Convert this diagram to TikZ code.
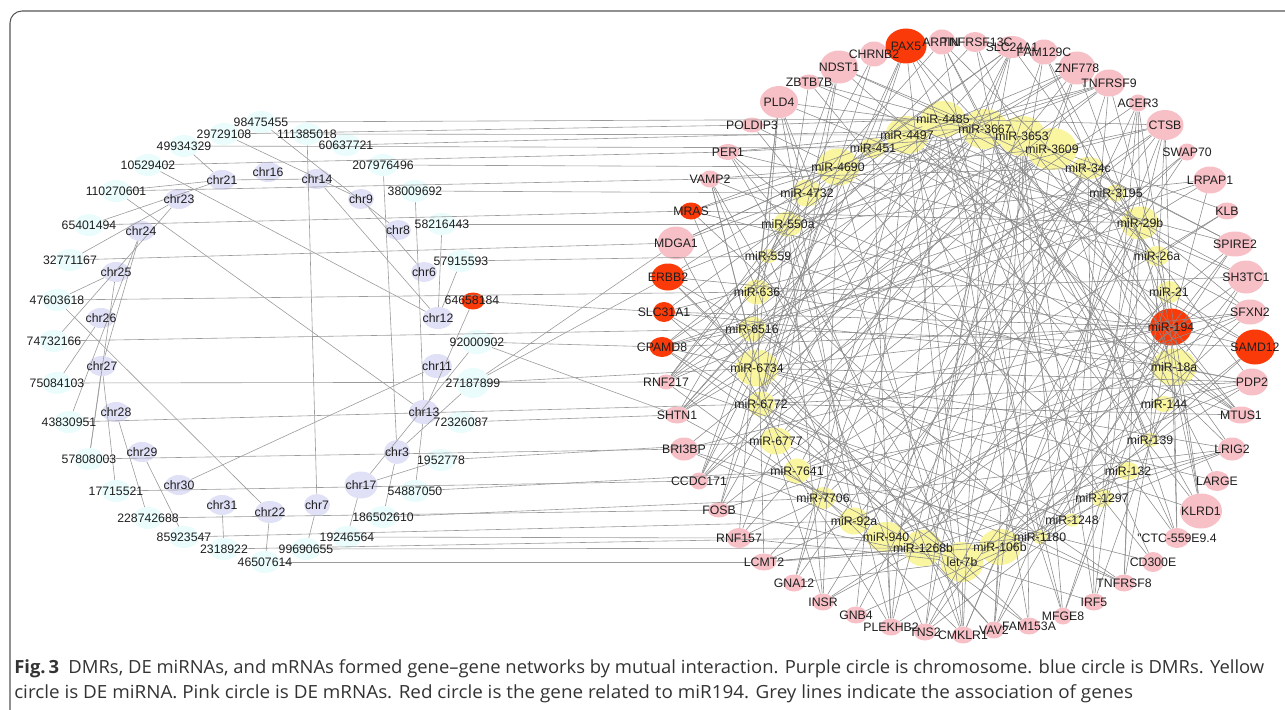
\documentclass[tikz,border=0pt]{standalone}
\usepackage{fontspec}
\usepackage{graphicx}
\newfontfamily\lblfont{Liberation Sans}
\newfontfamily\capfont{Open Sans}
\usetikzlibrary{shapes.geometric}
\definecolor{pk}{RGB}{247,192,198}
\definecolor{rd}{RGB}{250,58,8}
\definecolor{yl}{RGB}{250,246,160}
\definecolor{cy}{RGB}{234,252,252}
\definecolor{lv}{RGB}{224,224,247}
\definecolor{eg}{RGB}{138,138,138}
\definecolor{lg}{RGB}{155,155,155}
\definecolor{framecol}{RGB}{85,85,85}
\pgfdeclarelayer{fills}\pgfdeclarelayer{edges}
\pgfsetlayers{fills,edges,main}
\tikzset{
  blob/.style={ellipse, inner sep=0pt, draw=none},
  lbl/.style={font=\lblfont\fontsize{9.2}{10}\selectfont, text=black!88, inner sep=0pt},
  edge/.style={draw=eg, line width=0.42pt},
  ledge/.style={draw=lg, line width=0.45pt},
  capline/.style={anchor=base west, inner sep=0pt, text=black!80}
}
\begin{document}
\begin{tikzpicture}[x=0.75pt,y=-0.75pt]
\path[use as bounding box] (0,0) rectangle (1285,710);
\clip (0,0) rectangle (1285,710);
\draw[framecol, line width=0.8pt, rounded corners=9pt] (10,11) rectangle (1320,760);

% ---------- left: DMRs (cyan) ----------
\foreach \n/\x/\y/\w/\h/\t in {
 d98475455/261/122/30/22/98475455, d29729108/224/134/30/22/29729108,
 d111385018/307/134/30/22/111385018, d49934329/184/146/30/22/49934329,
 d60637721/346/145/30/22/60637721, d10529402/148/165/30/22/10529402,
 d207976496/383/165/30/22/207976496, d110270601/116/191/30/22/110270601,
 d38009692/415/191/30/22/38009692, d65401494/89/225/30/22/65401494,
 d58216443/442/224/30/22/58216443, d32771167/70/260/30/22/32771167,
 d57915593/461/261/30/22/57915593, d47603618/57/300/30/22/47603618,
 d74732166/54/341/30/22/74732166, d92000902/477/342/33/24/92000902,
 d75084103/57/383/30/22/75084103, d27187899/473/383/33/30/27187899,
 d43830951/69/422/30/22/43830951, d72326087/461/422/30/22/72326087,
 d57808003/89/459/30/22/57808003, d1952778/441/460/30/22/1952778,
 d17715521/116/491/30/22/17715521, d54887050/415/491/30/22/54887050,
 d228742688/148/518/30/22/228742688, d186502610/383/517/30/22/186502610,
 d85923547/184/537/30/22/85923547, d19246564/347/537/30/22/19246564,
 d2318922/224/549/30/22/2318922, d99690655/306/549/30/22/99690655,
 d46507614/265/562/30/22/46507614}{
  \begin{pgfonlayer}{fills}
   \node[blob, fill=cy, minimum width=\w*0.75pt, minimum height=\h*0.75pt] (\n) at (\x,\y) {};
  \end{pgfonlayer}
  \node[lbl] at (\n) {\t};
}
\begin{pgfonlayer}{fills}
 \node[blob, fill=rd, minimum width=23*0.75pt, minimum height=17*0.75pt] (d64658184) at (473,301) {};
\end{pgfonlayer}
\node[lbl] at (472,300) {64658184};

% ---------- left: chromosomes (lavender) ----------
\foreach \n/\x/\y/\w/\h in {
 chr21/222/180/28/20, chr16/268/172/28/20, chr14/317/179/28/20, chr23/179/199/28/20,
 chr9/361/199/26/20, chr24/141/231/28/20, chr8/398/230/26/20, chr25/116/272/28/20,
 chr6/424/272/26/20, chr26/101/318/28/20, chr12/438/318/30/22, chr27/102/366/28/20,
 chr11/437/366/30/24, chr28/116/412/28/20, chr13/424/412/30/24, chr29/142/452/28/20,
 chr3/397/452/26/24, chr30/179/485/28/20, chr17/361/485/33/27, chr31/222/505/28/20,
 chr22/270/512/30/22, chr7/317/505/26/22}{
  \begin{pgfonlayer}{fills}
   \node[blob, fill=lv, minimum width=\w*0.75pt, minimum height=\h*0.75pt] (\n) at (\x,\y) {};
  \end{pgfonlayer}
  \node[lbl] at (\n) {\n};
}

% ---------- right: mRNAs (pink) ----------
\foreach \n/\x/\y/\w/\h/\t in {
 ARPIN/942/42/27/25/ARPIN, TNFRSF13C/975/42/25/20/TNFRSF13C, SLC24A1/1012/47/32/22/SLC24A1,
 FAM129C/1044/52/28/25/FAM129C, ZNF778/1077/68/37/33/ZNF778, TNFRSF9/1109/83/32/27/TNFRSF9,
 ACER3/1138/103/18/17/ACER3, CTSB/1165/125/37/30/CTSB, SWAP70/1187/152/18/17/SWAP70,
 LRPAP1/1210/180/33/27/LRPAP1, KLB/1227/211/23/17/KLB, SPIRE2/1235/244/37/25/SPIRE2,
 SH3TC1/1246/277/37/33/SH3TC1, SFXN2/1250/312/33/25/SFXN2, PDP2/1252/382/32/27/PDP2,
 MTUS1/1241/415/28/17/MTUS1, LRIG2/1232/449/28/23/LRIG2, LARGE/1217/481/25/20/LARGE,
 KLRD1/1201/511/42/35/KLRD1, CTC/1177/538/25/20/"CTC-559E9.4, CD300E/1153/562/22/20/CD300E,
 TNFRSF8/1124/583/22/17/TNFRSF8, IRF5/1094/602/22/17/IRF5, MFGE8/1063/616/18/17/MFGE8,
 FAM153A/1029/626/22/17/FAM153A, VAV2/994/630/20/17/VAV2, CMKLR1/963/635/22/17/CMKLR1,
 TNS2/925/632/22/17/TNS2, PLEKHB2/891/627/22/17/PLEKHB2, GNB4/856/615/22/17/GNB4,
 INSR/823/602/22/17/INSR, GNA12/794/583/22/17/GNA12, LCMT2/764/562/25/17/LCMT2,
 RNF157/739/538/25/20/RNF157, FOSB/719/510/22/15/FOSB, CCDC171/699/481/18/17/CCDC171,
 BRI3BP/684/449/28/23/BRI3BP, SHTN1/677/415/25/17/SHTN1, RNF217/666/382/18/15/RNF217,
 MDGA1/676/243/37/33/MDGA1, VAMP2/710/179/20/17/VAMP2, PER1/728/152/23/16/PER1,
 POLDIP3/752/125/22/15/POLDIP3, PLD4/779/102/38/32/PLD4, ZBTB7B/809/82/22/15/ZBTB7B,
 NDST1/839/67/38/33/NDST1, CHRNB2/874/54/28/25/CHRNB2}{
  \begin{pgfonlayer}{fills}
   \node[blob, fill=pk, minimum width=\w*0.75pt, minimum height=\h*0.75pt] (\n) at (\x,\y) {};
  \end{pgfonlayer}
}
% ---------- right: genes related to miR-194 (red) ----------
\foreach \n/\x/\y/\w/\h in {
 PAX5/906/46/41/35, SAMD12/1255/347/40/35, CPAMD8/662/347/25/20, SLC31A1/664/312/22/20,
 ERBB2/668/277/33/27, MRAS/691/211/22/17}{
  \begin{pgfonlayer}{fills}
   \node[blob, fill=rd, minimum width=\w*0.75pt, minimum height=\h*0.75pt] (\n) at (\x,\y) {};
  \end{pgfonlayer}
}
% ---------- right: miRNAs (yellow) ----------
\foreach \n/\x/\y/\w/\h in {
 m4485/943/119/45/36, m3667/985/129/47/40, m3653/1022/136/47/40, m3609/1052/149/50/42,
 m4497/907/135/43/38, m451/873/148/27/20, m4690/838/167/43/37, m34c/1088/168/33/22,
 m4732/807/193/30/27, m3195/1116/193/20/17, m550a/788/224/30/25, m29b/1140/223/38/33,
 m559/768/256/18/14, m26a/1157/256/25/20, m636/757/292/28/25, m21/1169/292/25/22,
 m6516/752/329/28/25, m6734/757/368/43/37, m18a/1174/367/45/37, m6772/761/404/28/25,
 m144/1164/404/23/16, m6777/776/441/32/27, m139/1150/440/17/14, m7641/797/471/27/25,
 m132/1128/471/23/18, m7706/823/498/25/22, m1297/1102/498/22/18, m92a/854/521/30/27,
 m1248/1072/520/17/13, m940/886/537/40/30, m1180/1040/537/15/14, m1268b/923/548/38/37,
 let7b/962/562/43/40, m106b/1000/547/42/36}{
  \begin{pgfonlayer}{fills}
   \node[blob, fill=yl, minimum width=\w*0.75pt, minimum height=\h*0.75pt] (\n) at (\x,\y) {};
  \end{pgfonlayer}
}
\begin{pgfonlayer}{fills}
 \node[blob, fill=rd, minimum width=42*0.75pt, minimum height=37*0.75pt] (m194) at (1171,327) {};
\end{pgfonlayer}

% ---------- labels of the right network ----------
\foreach \n/\t in {
 PAX5/PAX5, SAMD12/SAMD12, CPAMD8/CPAMD8, SLC31A1/SLC31A1, ERBB2/ERBB2, MRAS/MRAS,
 SLC24A1/SLC24A1, FAM129C/FAM129C, ZNF778/ZNF778, TNFRSF9/TNFRSF9,
 ACER3/ACER3, CTSB/CTSB, SWAP70/SWAP70, LRPAP1/LRPAP1, KLB/KLB, SPIRE2/SPIRE2,
 SH3TC1/SH3TC1, SFXN2/SFXN2, PDP2/PDP2, MTUS1/MTUS1, LRIG2/LRIG2, LARGE/LARGE,
 KLRD1/KLRD1, CTC/"CTC-559E9.4, CD300E/CD300E, TNFRSF8/TNFRSF8, IRF5/IRF5, MFGE8/MFGE8,
 FAM153A/FAM153A, VAV2/VAV2, CMKLR1/CMKLR1, TNS2/TNS2, PLEKHB2/PLEKHB2, GNB4/GNB4,
 INSR/INSR, GNA12/GNA12, LCMT2/LCMT2, RNF157/RNF157, FOSB/FOSB, CCDC171/CCDC171,
 BRI3BP/BRI3BP, SHTN1/SHTN1, RNF217/RNF217, MDGA1/MDGA1, VAMP2/VAMP2, PER1/PER1,
 POLDIP3/POLDIP3, PLD4/PLD4, ZBTB7B/ZBTB7B, NDST1/NDST1, CHRNB2/CHRNB2,
 m4485/miR-4485, m3667/miR-3667, m3653/miR-3653, m3609/miR-3609, m4497/miR-4497,
 m451/miR-451, m4690/miR-4690, m34c/miR-34c, m4732/miR-4732, m3195/miR-3195,
 m550a/miR-550a, m29b/miR-29b, m559/miR-559, m26a/miR-26a, m636/miR-636, m21/miR-21,
 m6516/miR-6516, m194/miR-194, m6734/miR-6734, m18a/miR-18a, m6772/miR-6772,
 m144/miR-144, m6777/miR-6777, m139/miR-139, m7641/miR-7641, m132/miR-132,
 m7706/miR-7706, m1297/miR-1297, m92a/miR-92a, m1248/miR-1248, m940/miR-940,
 m1180/miR-1180, m1268b/miR-1268b, let7b/let-7b, m106b/miR-106b}{
  \node[lbl] at (\n) {\t};
}
\node[lbl] at (941,42) {ARPIN};
\node[lbl] at (977,42) {TNFRSF13C};

% ---------- edges ----------
\begin{pgfonlayer}{edges}
% chromosome -- DMR
\foreach \a/\b in {d49934329/chr21, d110270601/chr21, chr21/chr14, d65401494/chr21,
 d32771167/chr23, chr23/d74732166, chr24/chr27, chr24/d43830951, chr25/d47603618,
 chr25/d57808003, chr26/d75084103, chr27/d57808003, chr27/d17715521, chr28/d228742688,
 chr29/d85923547, chr31/d2318922, chr22/d46507614, chr7/d99690655, d111385018/chr7,
 d47603618/chr22, d10529402/chr12, d110270601/chr13, d29729108/chr9, d98475455/chr8,
 chr9/chr6, d207976496/chr3, d38009692/chr13, d58216443/chr12, d57915593/chr12,
 d64658184/chr13, chr14/chr12, chr17/d92000902, chr3/d27187899, chr17/d1952778,
 chr17/d19246564, chr3/d186502610, chr13/d54887050, chr30/chr11}{
  \draw[ledge] (\a) -- (\b);
}
% DMR -- genes / miRNAs
\foreach \a/\b in {d98475455/m4485, d29729108/POLDIP3, d111385018/m4497, d49934329/m451,
 d60637721/m3667, d10529402/PER1, d207976496/m4690, d110270601/VAMP2, d38009692/m4732,
 d65401494/MRAS, d58216443/m550a, d32771167/MDGA1, d57915593/m559, d47603618/m636,
 d64658184/SLC31A1, d74732166/m6516, d92000902/CPAMD8, d75084103/RNF217, d27187899/m6734,
 d27187899/ERBB2, d27187899/MDGA1, d43830951/m6772, d72326087/SHTN1, d92000902/SHTN1,
 d57808003/BRI3BP, d1952778/m6777, d17715521/CCDC171, d54887050/m7641, d228742688/FOSB,
 d186502610/m7706, d85923547/m92a, d19246564/RNF157, d2318922/m940, d99690655/m1268b,
 d46507614/LCMT2}{
  \draw[ledge] (\a) -- (\b);
}
% miR-194 -- related genes
\foreach \b in {PAX5, MRAS, ERBB2, SLC31A1, CPAMD8, SAMD12}{
  \draw[edge] (m194) -- (\b);
}
% miRNA -- mRNA network
\pgfmathsetseed{4242}
\foreach \m/\p in {m4485/0.22, m3667/0.22, m3653/0.22, m3609/0.22, m4497/0.22, m451/0.08,
 m4690/0.22, m34c/0.12, m4732/0.12, m3195/0.08, m550a/0.12, m29b/0.22, m559/0.08,
 m26a/0.12, m636/0.12, m21/0.12, m6516/0.12, m194/0.2, m6734/0.22, m18a/0.22,
 m6772/0.12, m144/0.08, m6777/0.12, m139/0.08, m7641/0.12, m132/0.08, m7706/0.08,
 m1297/0.08, m92a/0.12, m1248/0.08, m940/0.22, m1180/0.08, m1268b/0.22, let7b/0.22,
 m106b/0.22}{
  \foreach \g/\q in {PAX5/1.3, ARPIN/1, TNFRSF13C/1, SLC24A1/1, FAM129C/1, ZNF778/1.3,
   TNFRSF9/1.2, ACER3/0.8, CTSB/1.3, SWAP70/0.8, LRPAP1/1, KLB/0.8, SPIRE2/1, SH3TC1/1.3,
   SFXN2/1, SAMD12/1.2, PDP2/1, MTUS1/0.8, LRIG2/1, LARGE/1, KLRD1/1.4, CTC/1, CD300E/1,
   TNFRSF8/1, IRF5/1, MFGE8/1, FAM153A/1, VAV2/1, CMKLR1/1, TNS2/1, PLEKHB2/1, GNB4/1,
   INSR/1, GNA12/1, LCMT2/1, RNF157/1, FOSB/1, CCDC171/1, BRI3BP/1, SHTN1/1, RNF217/0.8,
   CPAMD8/1, SLC31A1/1, ERBB2/1.2, MDGA1/1.3, MRAS/1, VAMP2/1, PER1/1, POLDIP3/1,
   PLD4/1.3, ZBTB7B/0.8, NDST1/1.3, CHRNB2/1}{
    \pgfmathtruncatemacro\hit{rnd<\p*\q ? 1 : 0}
    \ifnum\hit=1 \draw[edge] (\m) -- (\g); \fi
  }
}
\end{pgfonlayer}

% ---------- caption ----------
\node[capline] (cap1) at (14,673) {\resizebox{937.5pt}{10.4pt}{\capfont\textbf{Fig.\,3}\enspace DMRs, DE miRNAs, and mRNAs formed gene–gene networks by mutual interaction. Purple circle is chromosome. blue circle is DMRs. Yellow}};
\node[capline] (cap2) at (14,698) {\resizebox{839pt}{10.4pt}{\capfont circle is DE miRNA. Pink circle is DE mRNAs. Red circle is the gene related to miR194. Grey lines indicate the association of genes}};
\end{tikzpicture}
\end{document}
